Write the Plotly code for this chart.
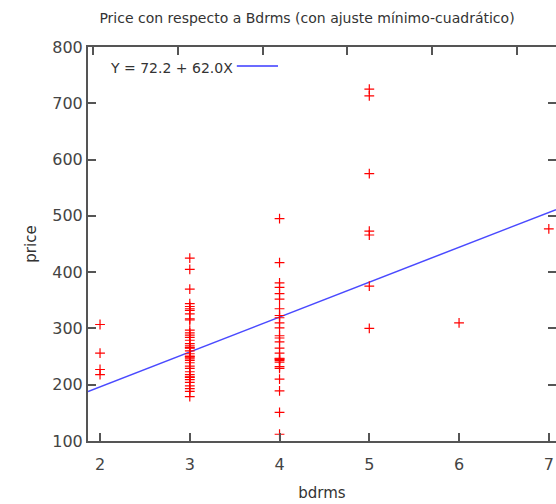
import plotly.graph_objects as go

# ---- data ----
bdrms_2 = [307, 256, 227, 218]
bdrms_3 = [425, 405, 370, 344, 339, 335, 332, 326, 317, 315, 297, 292, 288, 284,
           279, 273, 269, 266, 265, 260, 255, 251, 250, 249, 246, 243, 239, 233,
           229, 223, 218, 214, 213, 209, 204, 198, 193, 188, 179]
bdrms_4 = [495, 417, 381, 373, 362, 352, 335, 323, 319, 310, 301, 287, 283, 276,
           265, 256, 247, 246, 245, 243, 240, 232, 229, 210, 189, 151, 112]
bdrms_5 = [725, 713, 575, 473, 466, 375, 300]
bdrms_6 = [310]
bdrms_7 = [477]

groups = {2: bdrms_2, 3: bdrms_3, 4: bdrms_4, 5: bdrms_5, 6: bdrms_6, 7: bdrms_7}

intercept = 72.2
slope = 62.0
fit_label = "Y = 72.2 + 62.0X"

x_range = [1.866, 7.08]
y_range = [100, 800]
x_ticks = [2, 3, 4, 5, 6, 7]
y_ticks = [100, 200, 300, 400, 500, 600, 700, 800]
top_ticks = [1.922, 2.870, 3.817, 4.754, 5.701, 6.649]

xs, ys = [], []
for k, vals in groups.items():
    for v in vals:
        xs.append(k)
        ys.append(v)

fig = go.Figure()
fig.add_trace(go.Scatter(
    x=x_range, y=[intercept + slope * x for x in x_range],
    mode="lines", line=dict(color="#4a4aff", width=1.5), showlegend=False))
fig.add_trace(go.Scatter(
    x=xs, y=ys, mode="markers",
    marker=dict(symbol="cross-thin", size=7, line=dict(color="#ff0000", width=1.2)),
    showlegend=False))

# invisible trace for top axis
fig.add_trace(go.Scatter(x=x_range, y=y_range, xaxis="x2", mode="markers",
                         marker=dict(opacity=0), showlegend=False, hoverinfo="skip"))

axcol = "#555555"
font = "DejaVu Sans"
fig.update_layout(
    width=556, height=504,
    margin=dict(l=88, r=0, t=47, b=63),
    plot_bgcolor="white", paper_bgcolor="white",
    font=dict(family=font, color="#333333", size=15),
    title=dict(text="Price con respecto a Bdrms (con ajuste mínimo-cuadrático)",
               x=0.468, xref="paper", xanchor="center", y=0.965, yanchor="middle",
               font=dict(size=14, color="#333333")),
    xaxis=dict(range=x_range, tickvals=x_ticks, ticks="inside", ticklen=8,
               tickcolor=axcol, tickwidth=1.5, showline=True, linecolor=axcol,
               linewidth=2, mirror=False, showgrid=False, zeroline=False,
               automargin=False, ticklabelstandoff=8,
               title=dict(text="bdrms", font=dict(size=15), standoff=14),
               tickfont=dict(size=16, color="#444444")),
    xaxis2=dict(range=x_range, overlaying="x", side="top", tickvals=top_ticks,
                showticklabels=False, ticks="inside", ticklen=8, tickcolor=axcol,
                tickwidth=1.5, showline=True, linecolor=axcol, linewidth=2,
                showgrid=False, zeroline=False, automargin=False),
    yaxis=dict(range=y_range, tickvals=y_ticks, ticks="inside", ticklen=8,
               tickcolor=axcol, tickwidth=1.5, showline=True, linecolor=axcol,
               linewidth=2, mirror="ticks", showgrid=False, zeroline=False,
               automargin=False,
               title=dict(text="price", font=dict(size=15), standoff=12),
               tickfont=dict(size=16, color="#444444")),
    annotations=[dict(text=fit_label, xref="paper", yref="paper", x=0.043, y=0.947,
                      xanchor="left", yanchor="middle", showarrow=False,
                      font=dict(size=14, color="#333333"))],
    shapes=[dict(type="line", xref="paper", yref="paper", x0=0.318, x1=0.406,
                 y0=0.952, y1=0.952, line=dict(color="#3a3aff", width=1.5))],
)

fig.write_html("out.html", config={"displayModeBar": False},
               post_script="document.body.style.margin='0';document.body.style.overflow='hidden';")
